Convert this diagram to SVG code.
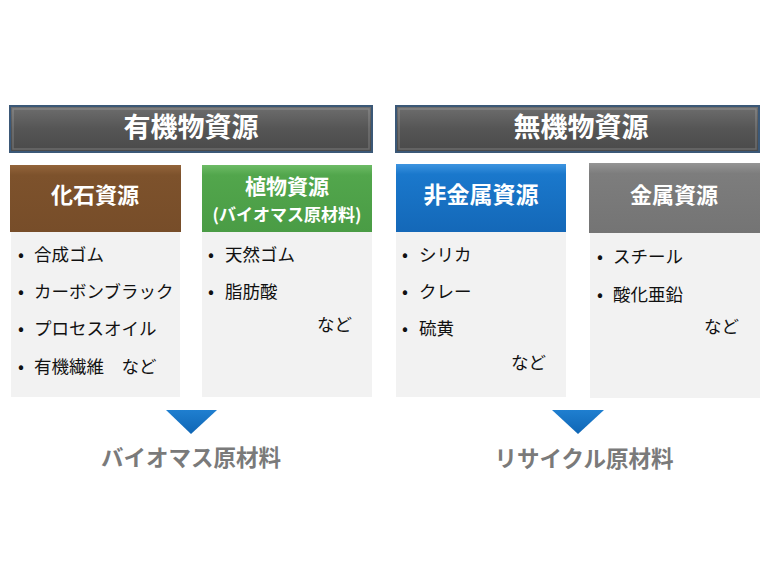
<svg xmlns="http://www.w3.org/2000/svg" width="768" height="576" viewBox="0 0 768 576">
<defs>
<linearGradient id="gHead" x1="0" y1="0" x2="0" y2="1"><stop offset="0" stop-color="#6e6e6e"/><stop offset="0.5" stop-color="#555"/><stop offset="1" stop-color="#4a4a4a"/></linearGradient>
<linearGradient id="gBrown" x1="0" y1="0" x2="0" y2="1"><stop offset="0" stop-color="#93643a"/><stop offset="0.15" stop-color="#7d522c"/><stop offset="1" stop-color="#774d29"/></linearGradient>
<linearGradient id="gGreen" x1="0" y1="0" x2="0" y2="1"><stop offset="0" stop-color="#6dbb66"/><stop offset="0.15" stop-color="#52a64c"/><stop offset="1" stop-color="#4a9c45"/></linearGradient>
<linearGradient id="gBlue" x1="0" y1="0" x2="0" y2="1"><stop offset="0" stop-color="#3d94e0"/><stop offset="0.15" stop-color="#1a78cc"/><stop offset="1" stop-color="#1468b8"/></linearGradient>
<linearGradient id="gGray" x1="0" y1="0" x2="0" y2="1"><stop offset="0" stop-color="#959595"/><stop offset="0.15" stop-color="#7d7d7d"/><stop offset="1" stop-color="#747474"/></linearGradient>
<linearGradient id="gTri" x1="0" y1="0" x2="0" y2="1"><stop offset="0" stop-color="#1f7fd0"/><stop offset="1" stop-color="#0f66b5"/></linearGradient>
</defs>
<style>
.head{fill:url(#gHead);stroke:#3b5877;stroke-width:2}
.hl{fill:none;stroke:#ffffff;stroke-opacity:0.18;stroke-width:1.5}
.body{fill:#f2f2f2}
.ht{font-family:"Noto Sans CJK JP","Noto Sans",sans-serif;font-weight:bold;fill:#ffffff;text-anchor:middle}
.it{font-family:"Noto Sans CJK JP","Noto Sans",sans-serif;font-size:17.5px;fill:#111}
.bt{font-family:"Noto Sans CJK JP","Noto Sans",sans-serif;font-size:22.5px;font-weight:bold;fill:#7a7a7a;text-anchor:middle}
.tri{fill:url(#gTri)}
</style>
<rect width="768" height="576" fill="#ffffff"/>

<g id="organic">
<rect class="head" x="10" y="106" width="362" height="46"/>
<rect class="hl" x="13" y="109" width="356" height="40"/>
<text class="ht" x="191" y="137" font-size="27">有機物資源</text>
</g>
<g id="inorganic">
<rect class="head" x="396" y="106" width="363" height="46"/>
<rect class="hl" x="399" y="109" width="357" height="40"/>
<text class="ht" x="581" y="137" font-size="27">無機物資源</text>
</g>

<g id="fossil">
<rect class="body" x="11" y="232" width="169" height="165"/>
<rect x="10" y="165" width="171" height="67" fill="url(#gBrown)"/>
<text class="ht" x="95" y="203" font-size="22">化石資源</text>
<text class="it" x="18" y="261">•</text><text class="it" x="34" y="261">合成ゴム</text>
<text class="it" x="18" y="298">•</text><text class="it" x="34" y="298">カーボンブラック</text>
<text class="it" x="18" y="335">•</text><text class="it" x="34" y="335">プロセスオイル</text>
<text class="it" x="18" y="373">•</text><text class="it" x="34" y="373">有機繊維　など</text>
</g>

<g id="plant">
<rect class="body" x="202" y="232" width="170" height="165"/>
<rect x="202" y="165" width="170" height="67" fill="url(#gGreen)"/>
<text class="ht" x="287" y="194" font-size="21">植物資源</text>
<text class="ht" x="287" y="221" font-size="17">(バイオマス原材料)</text>
<text class="it" x="208" y="261">•</text><text class="it" x="225" y="261">天然ゴム</text>
<text class="it" x="208" y="298">•</text><text class="it" x="225" y="298">脂肪酸</text>
<text class="it" x="317" y="331">など</text>
</g>

<g id="nonmetal">
<rect class="body" x="396" y="232" width="170" height="165"/>
<rect x="396" y="164" width="170" height="68" fill="url(#gBlue)"/>
<text class="ht" x="481" y="203" font-size="23">非金属資源</text>
<text class="it" x="402" y="261">•</text><text class="it" x="419" y="261">シリカ</text>
<text class="it" x="402" y="298">•</text><text class="it" x="419" y="298">クレー</text>
<text class="it" x="402" y="335">•</text><text class="it" x="419" y="335">硫黄</text>
<text class="it" x="511" y="369">など</text>
</g>

<g id="metal">
<rect class="body" x="590" y="233" width="170" height="165"/>
<rect x="589" y="163" width="171" height="70" fill="url(#gGray)"/>
<text class="ht" x="674" y="203" font-size="22">金属資源</text>
<text class="it" x="597" y="263">•</text><text class="it" x="613" y="263">スチール</text>
<text class="it" x="597" y="301">•</text><text class="it" x="613" y="301">酸化亜鉛</text>
<text class="it" x="704" y="333">など</text>
</g>

<g id="connectors">
<polygon class="tri" points="166,410 217,410 191,434"/>
<polygon class="tri" points="552,410 604,410 578,434"/>
</g>

<g id="biomass"><text class="bt" x="191" y="466">バイオマス原材料</text></g>
<g id="recycle"><text class="bt" x="584" y="467">リサイクル原材料</text></g>
</svg>
